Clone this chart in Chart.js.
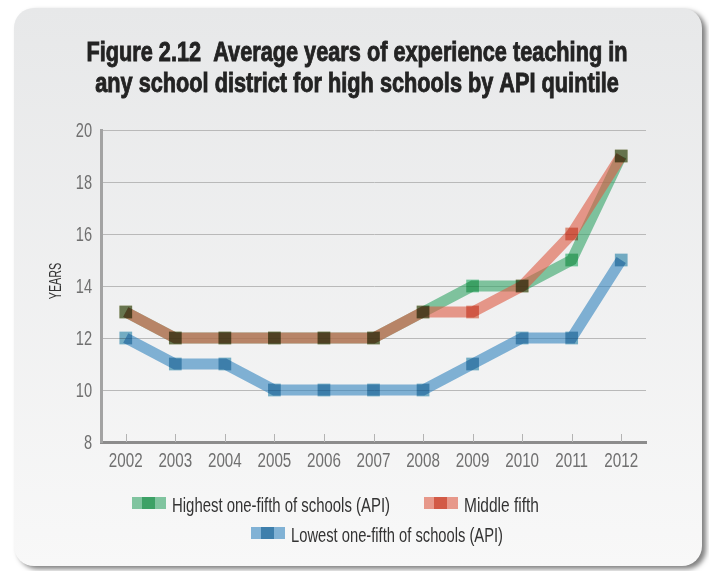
<!DOCTYPE html>
<html>
<head>
<meta charset="utf-8">
<script src="https://cdn.jsdelivr.net/npm/chart.js@4.4.1/dist/chart.umd.min.js"></script>
<style>
  html, body { margin: 0; padding: 0; background: #fff; }
  canvas { display: block; }
</style>
</head>
<body>
<canvas id="expChart" width="709" height="571"></canvas>
<script>
const years = ['2002', '2003', '2004', '2005', '2006', '2007', '2008', '2009', '2010', '2011', '2012'];
const highestFifth = [13, 12, 12, 12, 12, 12, 13, 14, 14, 15, 19];
const middleFifth = [13, 12, 12, 12, 12, 12, 13, 13, 14, 16, 19];
const lowestFifth = [12, 11, 11, 10, 10, 10, 10, 11, 12, 12, 15];
const yTicks = [8, 10, 12, 14, 16, 18, 20];

const titleLines = ['Figure 2.12  Average years of experience teaching in', 'any school district for high schools by API quintile'];
const yAxisTitle = 'YEARS';
const seriesNames = ['Highest one-fifth of schools (API)', 'Middle fifth', 'Lowest one-fifth of schools (API)'];
const lineColors = ['rgba(50,164,101,0.6)', 'rgba(221,90,66,0.6)', 'rgba(50,132,190,0.6)'];
// markers are multiplied onto whatever is under them
const markerColors = ['rgb(121,210,163)', 'rgb(232,150,129)', 'rgb(122,182,206)'];

const FONT = "'Liberation Sans', Arial, sans-serif";

// the typeface here is a narrow gothic, so text is drawn horizontally squeezed
function squeezed(ctx, text, x, y, sx, align, stroke) {
  ctx.save();
  ctx.translate(x, y);
  ctx.scale(sx, 1);
  ctx.textAlign = align;
  ctx.fillText(text, 0, 0);
  if (stroke) ctx.strokeText(text, 0, 0);
  ctx.restore();
}

const panelBackground = {
  id: 'panelBackground',
  beforeDraw(chart) {
    const ctx = chart.ctx;
    ctx.save();
    ctx.fillStyle = '#fff';
    ctx.fillRect(0, 0, chart.width, chart.height);
    ctx.shadowColor = 'rgba(0,0,0,0.5)';
    ctx.shadowOffsetX = 4;
    ctx.shadowOffsetY = 3;
    ctx.shadowBlur = 5;
    const g = ctx.createLinearGradient(0, 8, 0, 566);
    g.addColorStop(0, '#e7e8e9');
    g.addColorStop(1, '#f8f8f8');
    ctx.fillStyle = g;
    ctx.beginPath();
    ctx.roundRect(14, 8, 688, 558, 20);
    ctx.fill();
    ctx.restore();
  }
};

// short upward tick marks on the x axis
const xTickMarks = {
  id: 'xTickMarks',
  beforeDatasetsDraw(chart) {
    const xs = chart.scales.x;
    const bottom = chart.chartArea.bottom;
    const ctx = chart.ctx;
    ctx.save();
    ctx.strokeStyle = '#b3b3b3';
    ctx.lineWidth = 1;
    years.forEach((_, i) => {
      const px = Math.round(xs.getPixelForTick(i)) + 0.5;
      ctx.beginPath();
      ctx.moveTo(px, bottom - 8);
      ctx.lineTo(px, bottom);
      ctx.stroke();
    });
    ctx.restore();
  }
};

const markerBlend = {
  id: 'markerBlend',
  beforeDatasetDraw(chart, args) {
    if (chart.data.datasets[args.index].isMarker) {
      chart.ctx.save();
      chart.ctx.globalCompositeOperation = 'multiply';
    }
  },
  afterDatasetDraw(chart, args) {
    if (chart.data.datasets[args.index].isMarker) chart.ctx.restore();
  }
};

// title, axis labels and axis title
const narrowText = {
  id: 'narrowText',
  afterDraw(chart) {
    const ctx = chart.ctx;
    const xs = chart.scales.x;
    const ys = chart.scales.y;
    ctx.save();
    ctx.textBaseline = 'alphabetic';

    ctx.fillStyle = '#232323';
    ctx.strokeStyle = '#232323';
    ctx.lineWidth = 0.9;
    ctx.font = 'bold 27px ' + FONT;
    const sxTitle = 541 / ctx.measureText(titleLines[0]).width;
    squeezed(ctx, titleLines[0], 357, 61, sxTitle, 'center', true);
    squeezed(ctx, titleLines[1], 357, 92, sxTitle, 'center', true);

    ctx.fillStyle = '#707070';
    ctx.font = '20px ' + FONT;
    ys.ticks.forEach(t => {
      squeezed(ctx, String(t.value), chart.chartArea.left - 9, ys.getPixelForValue(t.value) + 7, 0.73, 'right');
    });
    years.forEach((label, i) => {
      squeezed(ctx, label, xs.getPixelForTick(i), 467, 0.76, 'center');
    });

    ctx.fillStyle = '#333';
    ctx.font = '17px ' + FONT;
    ctx.translate(56, 281);
    ctx.rotate(-Math.PI / 2);
    ctx.textBaseline = 'middle';
    const sxY = 36.5 / ctx.measureText(yAxisTitle).width;
    squeezed(ctx, yAxisTitle, 0, 0, sxY, 'center');
    ctx.restore();
  }
};

// legend laid out in two rows under the axis
const legendSlots = [{ x: 132, y: 497, w: 218 }, { x: 424, y: 497, w: 75 }, { x: 251, y: 527, w: 212 }];
const lineLegend = {
  id: 'lineLegend',
  afterDraw(chart) {
    const ctx = chart.ctx;
    ctx.save();
    ctx.font = '20px ' + FONT;
    ctx.textBaseline = 'alphabetic';
    seriesNames.forEach((name, i) => {
      const s = legendSlots[i];
      ctx.globalCompositeOperation = 'source-over';
      ctx.fillStyle = lineColors[i];
      ctx.fillRect(s.x, s.y, 34, 12);
      ctx.globalCompositeOperation = 'multiply';
      ctx.fillStyle = markerColors[i];
      ctx.fillRect(s.x + 10, s.y, 13, 12);
      ctx.globalCompositeOperation = 'source-over';
      ctx.fillStyle = '#333';
      const sx = s.w / ctx.measureText(name).width;
      squeezed(ctx, name, s.x + 40, s.y + 15, sx, 'left');
    });
    ctx.restore();
  }
};

const seriesData = [highestFifth, middleFifth, lowestFifth];
const lineOrder = [4, 3, 3];

const datasets = [];
seriesData.forEach((vals, i) => {
  datasets.push({
    label: seriesNames[i],
    data: vals,
    borderColor: lineColors[i],
    borderWidth: 11,
    pointRadius: 0,
    tension: 0,
    borderJoinStyle: 'miter',
    order: lineOrder[i]
  });
});
seriesData.forEach((vals, i) => {
  datasets.push({
    label: seriesNames[i] + ' markers',
    isMarker: true,
    data: vals,
    showLine: false,
    pointStyle: 'rect',
    pointRadius: 9,
    pointBorderWidth: 0,
    pointBackgroundColor: markerColors[i],
    order: 1
  });
});

new Chart(document.getElementById('expChart'), {
  type: 'line',
  data: { labels: years, datasets },
  options: {
    responsive: false,
    animation: false,
    layout: { padding: { top: 130, left: 14, right: 63, bottom: 99 } },
    plugins: {
      legend: { display: false },
      tooltip: { enabled: false },
      title: { display: false }
    },
    scales: {
      x: {
        offset: true,
        grid: { display: false },
        border: { color: '#8c8c8c', width: 3 },
        ticks: { display: false },
        afterFit(scale) { scale.height = 30; }
      },
      y: {
        min: 8,
        max: 20,
        afterBuildTicks(scale) { scale.ticks = yTicks.map(v => ({ value: v })); },
        grid: { color: '#b9b9b9', lineWidth: 1, drawTicks: false },
        border: { color: '#a3a3a3', width: 3 },
        ticks: { display: false },
        afterFit(scale) { scale.width = 87; }
      }
    }
  },
  plugins: [panelBackground, xTickMarks, markerBlend, narrowText, lineLegend]
});
</script>
</body>
</html>
